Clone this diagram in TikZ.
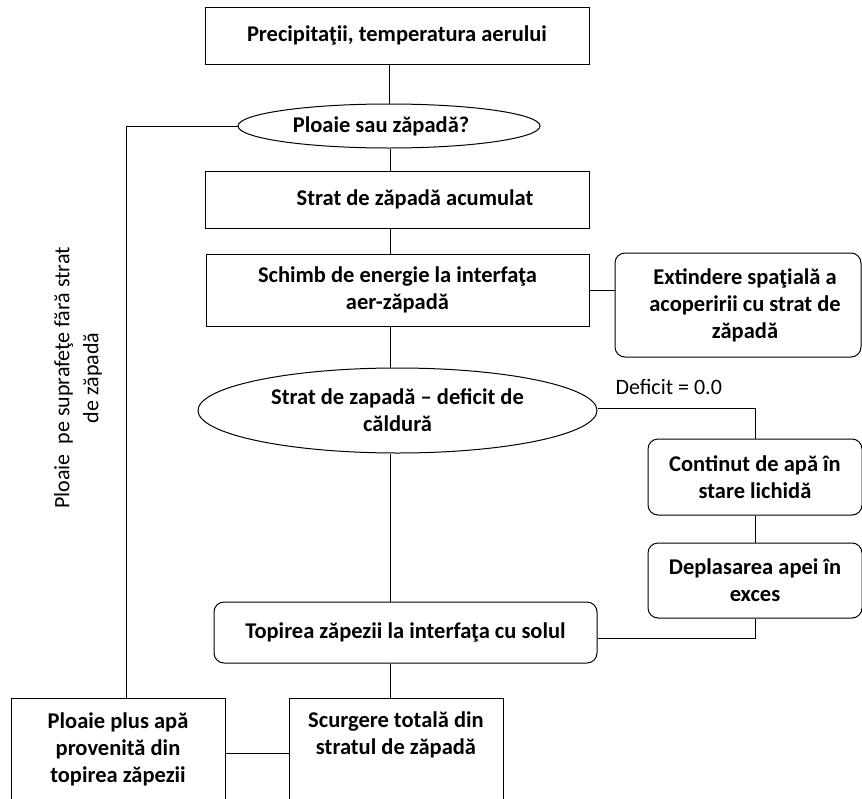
\documentclass[tikz,border=0pt]{standalone}
\usepackage{fontspec}
\setmainfont{Carlito}
\usetikzlibrary{shapes.geometric}
\begin{document}
\begin{tikzpicture}[x=1pt,y=-1pt,
  every node/.style={font=\fontsize{22.5}{27}\selectfont\bfseries, align=center},
  conn/.style={line width=1pt},
  sqbox/.style={draw, line width=1pt, inner sep=0pt},
  rbox/.style={draw, line width=1pt, inner sep=0pt, rounded corners=10pt},
  oval/.style={draw, line width=1pt, ellipse, inner sep=0pt},
  plain/.style={font=\fontsize{22}{29}\selectfont}
]
\useasboundingbox (0,0) rectangle (862,798);

% main column
\node[sqbox, minimum width=384, minimum height=57] (prec) at (397,35.5) {Precipitaţii, temperatura aerului};
\node[oval, minimum width=302, minimum height=44] (q) at (389,126) {\hspace*{-16pt}Ploaie sau zăpadă?};
\node[sqbox, minimum width=384, minimum height=57] (acc) at (397,199.5) {\hspace*{36pt}Strat de zăpadă acumulat};
\node[sqbox, minimum width=383, minimum height=72] (exch) at (397.5,290) {Schimb de energie la interfaţa\\aer-zăpadă};
\node[oval, minimum width=399, minimum height=85] (def) at (397.5,410.5) {Strat de zapadă – deficit de\\căldură};
\node[rbox, minimum width=383, minimum height=61] (melt) at (405.5,632.5) {Topirea zăpezii la interfaţa cu solul};

% right column
\node[rbox, minimum width=246, minimum height=104] (ext) at (738,305) {\hspace*{14pt}Extindere spaţială a\\\hspace*{14pt}acoperirii cu strat de\\\hspace*{14pt}zăpadă};
\node[rbox, minimum width=214, minimum height=76] (liq) at (755,477) {Continut de apă în\\stare lichidă};
\node[rbox, minimum width=214, minimum height=75] (exc) at (755,580.5) {Deplasarea apei în\\exces};

% bottom boxes (continue below the page edge)
\node[sqbox, minimum width=214, minimum height=140, anchor=north] (mix) at (118,698) {};
\node at (118,749) {Ploaie plus apă\\provenită din\\topirea zăpezii};
\node[sqbox, minimum width=214, minimum height=140, anchor=north] (run) at (396,698) {};
\node at (396,735) {Scurgere totală din\\stratul de zăpadă};

% side label
\node[plain, rotate=90] (side) at (78,378) {Ploaie\ \ pe suprafeţe fără strat\\de zăpadă};

% routing coordinates
\coordinate (spine) at (390.5,0);
\coordinate (left) at (126,0);

% connectors
\draw[conn] (q.north |- prec.south) -- (q.north);
\draw[conn] (q.south -| spine) -- (acc.north -| spine);
\draw[conn] (acc.south -| spine) -- (exch.north -| spine);
\draw[conn] (exch.east) -- (exch.east -| ext.west);
\draw[conn] (exch.south -| spine) -- (def.north -| spine);
\draw[conn] ([yshift=2pt]def.east) -| (liq.north);
\node[plain, anchor=west] (dlab) at (612,387) {Deficit = 0.0};
\draw[conn] (liq.south) -- (exc.north);
\draw[conn] (def.south -| spine) -- (melt.north -| spine);
\draw[conn] ([yshift=-5.5pt]melt.east) -| (exc.south);
\draw[conn] (melt.south -| spine) -- (run.north -| spine);
\draw[conn] (q.west) -| (left |- mix.north);
\draw[conn] ([yshift=-55pt]mix.north east) -- ([yshift=-55pt]run.north west);
\end{tikzpicture}
\end{document}
